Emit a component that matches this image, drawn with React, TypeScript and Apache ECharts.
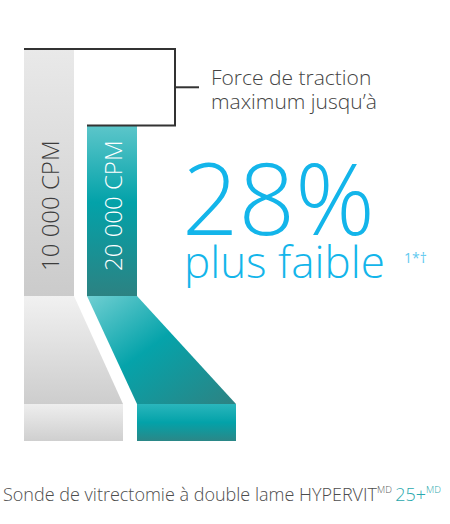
import { useEffect, useRef } from "react";
import * as echarts from "echarts";

// pull-force bars (relative, 10 000 CPM = 100)
const categories = ["10 000 CPM", "20 000 CPM"];
const forceValues = [100, 69];
const labelColors = ["#3c3c3c", "#ffffff"];
const headline = "28%";
const subline = "plus faible";
const footnote = "1*†";
const captionLines = ["Force de traction", "maximum jusqu’à"];

const FONT = '"Open Sans", "DejaVu Sans", sans-serif';

const grad = (x2: number, y2: number, stops: [number, string][]) =>
  new echarts.graphic.LinearGradient(0, 0, x2, y2, stops.map(([offset, color]) => ({ offset, color })));

const barFills = [
  grad(0, 1, [[0, "#e9e9e9"], [1, "#cbcbcb"]]),
  grad(0, 1, [[0, "#5cc6ca"], [0.45, "#03a2a9"], [1, "#2c8282"]]),
];
const probeFills = [
  grad(0, 1, [[0, "#f1f1f1"], [1, "#cdcdcd"]]),
  grad(1, 1, [[0, "#70cfd2"], [0.45, "#05a3aa"], [1, "#2e8282"]]),
];
const tipFills = [
  grad(0, 1, [[0, "#eeeeee"], [1, "#cfcfcf"]]),
  grad(0, 1, [[0, "#2ab6bc"], [0.5, "#03a2a9"], [1, "#2b8787"]]),
];

export default function App() {
  const ref = useRef<HTMLDivElement>(null);

  useEffect(() => {
    if (!ref.current) return;
    const chart = echarts.init(ref.current, null, { renderer: "svg" });

    chart.setOption({
      animation: false,
      backgroundColor: "#ffffff",
      grid: { left: 17.5, width: 126, top: 49, height: 247 },
      xAxis: { type: "category", data: categories, show: false },
      yAxis: { type: "value", min: 0, max: 100, show: false },
      series: [
        {
          type: "bar",
          barWidth: 50,
          data: forceValues.map((v, i) => ({
            value: v,
            itemStyle: { color: barFills[i] },
            label: { color: labelColors[i] },
          })),
          label: {
            show: true,
            position: "insideBottom",
            rotate: 90,
            align: "left",
            verticalAlign: "middle",
            distance: 25,
            formatter: "{b}",
            fontFamily: FONT,
            fontSize: 24,
            fontWeight: 300,
          },
          z: 2,
        },
        {
          // probe shaft + tip under each bar
          type: "custom",
          clip: false,
          data: categories.map((_, i) => [i, 0]),
          encode: { x: 0, y: 1 },
          renderItem: (_p: any, api: any) => {
            const i = api.value(0);
            const [cx, y0] = api.coord([i, 0]);
            const shift = i === 0 ? 0 : 50;
            const left = cx - 25 + shift;
            return {
              type: "group",
              children: [
                {
                  type: "polygon",
                  shape: {
                    points: [
                      [cx - 25, y0],
                      [cx + 25, y0],
                      [left + 99, y0 + 108],
                      [left, y0 + 108],
                    ],
                  },
                  style: { fill: probeFills[i] },
                },
                {
                  type: "rect",
                  shape: { x: left, y: y0 + 108, width: 99, height: 37 },
                  style: { fill: tipFills[i] },
                },
              ],
            };
          },
          z: 1,
        },
        {
          // bracket between the two bar tops
          type: "custom",
          clip: false,
          data: [[0, 0]],
          encode: { x: 0, y: 1 },
          renderItem: (_p: any, api: any) => {
            const a = api.coord([0, forceValues[0]]);
            const b = api.coord([1, forceValues[1]]);
            const xr = b[0] + 25 + 38;
            const mid = (a[1] + b[1]) / 2;
            const style = { stroke: "#333333", lineWidth: 2, fill: "none" };
            return {
              type: "group",
              children: [
                {
                  type: "polyline",
                  shape: { points: [[a[0] - 25, a[1]], [xr, a[1]], [xr, b[1]], [b[0] - 25, b[1]]] },
                  style,
                },
                { type: "line", shape: { x1: xr, y1: mid, x2: xr + 24, y2: mid }, style },
              ],
            };
          },
          z: 3,
        },
      ],
      graphic: [
        {
          type: "text",
          style: {
            text: captionLines.join("\n"),
            x: 211,
            y: 65,
            font: `300 21px ${FONT}`,
            lineHeight: 24,
            fill: "#444444",
          },
        },
        {
          type: "text",
          style: {
            text: headline,
            x: 182,
            y: 196,
            textVerticalAlign: "middle",
            font: `300 99px ${FONT}`,
            lineHeight: 72,
            fill: "#13b5ea",
          },
        },
        {
          type: "text",
          style: {
            text: subline,
            x: 184,
            y: 261,
            textVerticalAlign: "middle",
            font: `300 44px ${FONT}`,
            lineHeight: 34,
            fill: "#13b5ea",
          },
        },
        {
          type: "text",
          style: {
            text: footnote,
            x: 404,
            y: 257,
            textVerticalAlign: "middle",
            font: `400 14px ${FONT}`,
            fill: "#5fc9ef",
          },
        },
        {
          type: "text",
          style: {
            text: "{a|Sonde de vitrectomie à double lame HYPERVIT}{s|MD} {t|25+}{u|MD}",
            x: 3,
            y: 494,
            textVerticalAlign: "middle",
            rich: {
              a: { fontFamily: FONT, fontSize: 18, fontWeight: 300, fill: "#4d4d4d", lineHeight: 20 },
              s: { fontFamily: FONT, fontSize: 9.5, fontWeight: 300, fill: "#5a5a5a", lineHeight: 10, verticalAlign: "top" },
              t: { fontFamily: FONT, fontSize: 18, fontWeight: 300, fill: "#2aa8ad", lineHeight: 20 },
              u: { fontFamily: FONT, fontSize: 9.5, fontWeight: 300, fill: "#2aa8ad", lineHeight: 10, verticalAlign: "top" },
            },
          },
        },
      ],
    });

    return () => chart.dispose();
  }, []);

  return (
    <div
      ref={ref}
      style={{ position: "fixed", left: 0, top: 0, width: 450, height: 524 }}
    />
  );
}
